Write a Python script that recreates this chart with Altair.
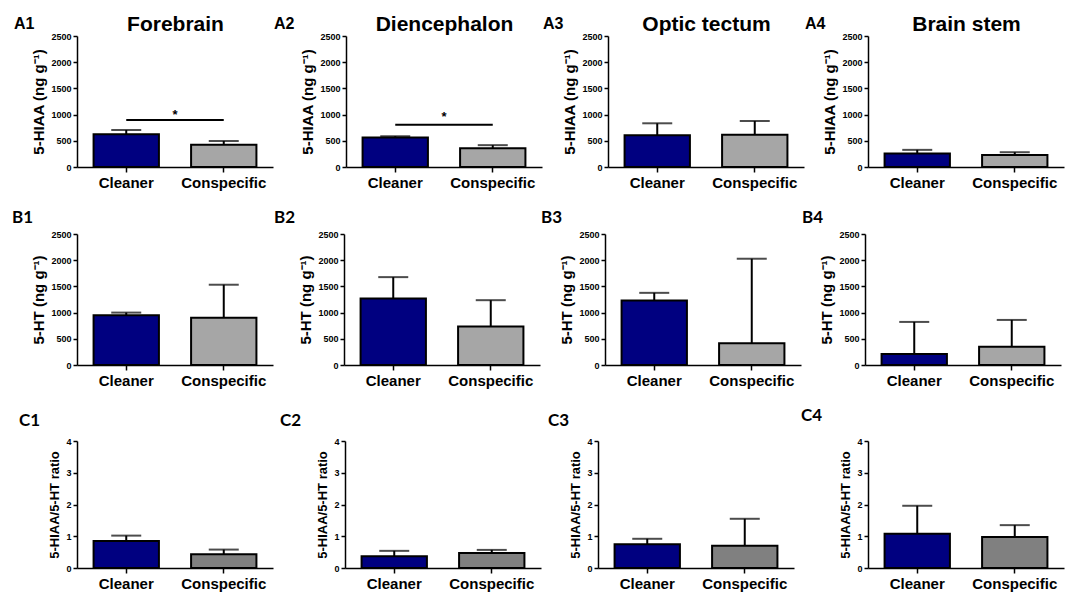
import altair as alt
import pandas as pd

groups = ["Cleaner", "Conspecific"]
regions = ["Forebrain", "Diencephalon", "Optic tectum", "Brain stem"]
labels_a = ["A1", "A2", "A3", "A4"]
labels_b = ["B1", "B2", "B3", "B4"]
labels_c = ["C1", "C2", "C3", "C4"]

hiaa_mean = [[624, 425], [562, 360], [605, 617], [256, 231]]
hiaa_upper = [[706, 496], [587, 417], [834, 878], [327, 282]]
ht_mean = [[948, 904], [1270, 733], [1230, 414], [210, 350]]
ht_upper = [[1000, 1532], [1677, 1237], [1377, 2028], [822, 860]]
ratio_mean = [[0.85, 0.43], [0.37, 0.47], [0.75, 0.70], [1.08, 0.98]]
ratio_upper = [[1.02, 0.58], [0.54, 0.57], [0.92, 1.55], [1.96, 1.35]]
sig_line = [897, 808, None, None]
sig_star = [1050, 1004, None, None]

FONT = "Liberation Sans"
LFONT = "Lato"
W, H = 196, 131
P_IN, P_OUT = 0.33, 0.17
STEP = W / (len(groups) - P_IN + 2 * P_OUT)
NAVY = "#000080"
GREY_LIGHT = "#A6A6A6"
GREY_DARK = "#808080"


def panel(label, mean, upper, ymax, ystep, ytitle, gray, lfont, ldx, loff,
          ldy=0, region=None, sig=None, star=None, ytp=4, ytfs=15, h=H):
    df = pd.DataFrame({"group": groups, "mean": mean, "upper": upper})
    xscale = alt.Scale(domain=groups, paddingInner=P_IN, paddingOuter=P_OUT)
    yscale = alt.Scale(domain=[0, ymax], nice=False, zero=True)
    xaxis = alt.Axis(title=None, labelAngle=0, labelFont=FONT, labelFontSize=15,
                     labelFontWeight="bold", labelColor="black", labelPadding=3,
                     tickSize=5, tickColor="black", tickWidth=1.5,
                     domainColor="black", domainWidth=1.5)
    yvals = [ystep * i for i in range(int(round(ymax / ystep)) + 1)]
    yaxis = alt.Axis(title=ytitle, values=yvals, format="d", grid=False, labelFont=FONT,
                     labelFontSize=9, labelFontWeight="bold", labelColor="black",
                     labelPadding=2, tickSize=4, tickColor="black", tickWidth=1.5,
                     domainColor="black", domainWidth=1.5, titleFont=FONT,
                     titleFontSize=ytfs, titleFontWeight="bold", titleColor="black",
                     titlePadding=ytp)
    base = alt.Chart(df)
    bars = base.mark_bar(stroke="black", strokeWidth=2).encode(
        x=alt.X("group:N", scale=xscale, sort=groups, axis=xaxis),
        y=alt.Y("mean:Q", scale=yscale, axis=yaxis),
        color=alt.Color("group:N", scale=alt.Scale(domain=groups, range=[NAVY, gray]),
                        legend=None),
    )
    rules = base.mark_rule(color="black", strokeWidth=2).encode(
        x=alt.X("group:N", scale=xscale, sort=groups, axis=None),
        y=alt.Y("mean:Q", scale=yscale, axis=yaxis),
        y2="upper:Q",
    )
    caps = base.mark_tick(color="black", thickness=2, size=30).encode(
        x=alt.X("group:N", scale=xscale, sort=groups, axis=None),
        y=alt.Y("upper:Q", scale=yscale, axis=yaxis),
    )
    layers = [bars, rules, caps]
    if sig is not None:
        sdf = pd.DataFrame({"a": [groups[0]], "b": [groups[1]],
                            "line": [sig], "star": [star]})
        sb = alt.Chart(sdf)
        layers.append(sb.mark_rule(color="black", strokeWidth=2).encode(
            x=alt.X("a:N", scale=xscale, axis=None),
            x2="b:N",
            y=alt.Y("line:Q", scale=yscale, axis=yaxis),
        ))
        layers.append(sb.mark_text(text="*", font=FONT, fontSize=13, fontWeight="bold",
                                   color="black", baseline="middle", dx=STEP / 2, dy=3).encode(
            x=alt.X("a:N", scale=xscale, axis=None),
            y=alt.Y("star:Q", scale=yscale, axis=yaxis),
        ))
    if region is not None:
        layers.append(base.mark_bar(opacity=0).encode(
            x=alt.X("group:N", scale=xscale, sort=groups,
                    axis=alt.Axis(orient="top", title=region, labels=False, ticks=False,
                                  domain=False, titleFont=FONT, titleFontSize=21,
                                  titleFontWeight="bold", titleColor="black",
                                  titlePadding=2)),
            y=alt.Y("mean:Q", scale=yscale, axis=yaxis),
        ))
    return alt.layer(*layers).resolve_axis(x="independent").properties(
        width=W, height=h,
        title=alt.TitleParams(text=label, anchor="start", frame="bounds", font=lfont,
                              fontSize=16 if lfont == FONT else 17, fontWeight="bold",
                              color="black", dx=ldx, dy=ldy, offset=loff),
    )


ytitle_hiaa = "5-HIAA (ng g\u207b\u00b9)"
ytitle_ht = "5-HT (ng g\u207b\u00b9)"
ytitle_ratio = "5-HIAA/5-HT ratio"

a_dx = [-18, -27, -20, -18]
b_dx = [-20, -25, -19, -18]
c_dx = [-30, -37, -22, -39]
c_off = [7, 7, 7, 12]

row_a = alt.hconcat(*[
    panel(labels_a[i], hiaa_mean[i], hiaa_upper[i], 2500, 500, ytitle_hiaa, GREY_LIGHT,
          FONT, a_dx[i], 0, ldy=19, region=regions[i], sig=sig_line[i], star=sig_star[i])
    for i in range(4)], spacing=0)
row_b = alt.hconcat(*[
    panel(labels_b[i], ht_mean[i], ht_upper[i], 2500, 500, ytitle_ht, GREY_LIGHT,
          LFONT, b_dx[i], 3)
    for i in range(4)], spacing=0)
row_c = alt.hconcat(*[
    panel(labels_c[i], ratio_mean[i], ratio_upper[i], 4, 1, ytitle_ratio, GREY_DARK,
          LFONT, c_dx[i], c_off[i], ytfs=13, h=127)
    for i in range(4)], spacing=6)

chart = alt.vconcat(row_a, row_b, row_c, spacing=19).resolve_scale(
    color="independent"
).properties(
    padding={"left": 3, "top": 5, "right": 2, "bottom": 2},
    background="white",
).configure_view(stroke=None)

chart.save("out.html", embed_options={"renderer": "svg", "actions": False})
